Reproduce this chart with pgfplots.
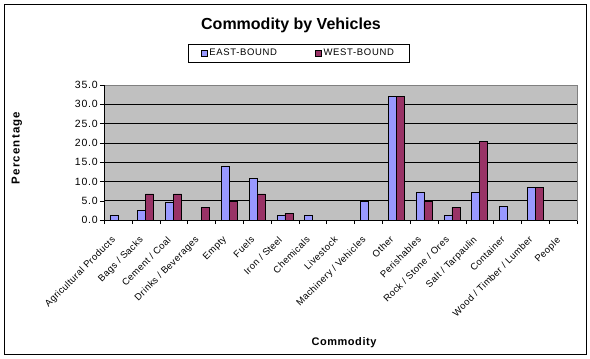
\documentclass[border=0pt]{standalone}
\usepackage{pgfplots}
\pgfplotsset{compat=1.18}
\usepackage{fontspec}
\setmainfont{Liberation Sans}
\newfontfamily\tickfont[LetterSpace=4]{Liberation Sans}
\newfontfamily\yfont[LetterSpace=8]{Liberation Sans}
\newfontfamily\legfont[LetterSpace=7]{Liberation Sans}
\newfontfamily\labfont[LetterSpace=10]{Liberation Sans}
\newfontfamily\xlabfont[LetterSpace=5]{Liberation Sans}
\definecolor{eastc}{HTML}{9999FF}
\definecolor{westc}{HTML}{993366}
\definecolor{plotbg}{HTML}{C0C0C0}
\begin{document}
\begin{tikzpicture}[x=1pt,y=1pt]
\useasboundingbox (0,0) rectangle (590,-359);
\draw[black,line width=0.8pt] (4,-4) rectangle (586,-354);
\node[font=\bfseries\fontsize{16}{18}\selectfont] at (291,-25) {Commodity by Vehicles};
\node[font=\labfont\bfseries\fontsize{11.5}{13}\selectfont,rotate=90] at (17,-148) {Percentage};
\node[font=\xlabfont\bfseries\fontsize{11}{13}\selectfont] at (344,-343) {Commodity};
\begin{axis}[
  at={(104pt,-220pt)}, anchor=south west,
  scale only axis, width=473pt, height=135pt,
  ybar=0pt, bar width=8pt,
  xmin=-0.5, xmax=16.5, ymin=0, ymax=35,
  ytick={0,5,...,35},
  xtick={0,...,16},
  xticklabels={Agricultural Products,Bags / Sacks,Cement / Coal,Drinks / Beverages,Empty,Fuels,Iron / Steel,Chemicals,Livestock,Machinery / Vehicles,Other,Perishables,Rock / Stone / Ores,Salt / Tarpaulin,Container,Wood / Timber / Lumber,People},
  minor xtick={-0.5,0.5,...,16.5},
  major x tick style={draw=none},
  minor tick length=4pt, major tick length=4pt,
  tick align=outside, tick pos=left,
  xticklabel style={xshift=-7pt, yshift=-10pt, rotate=45, anchor=north east, inner sep=1pt, font=\tickfont\fontsize{9.5}{11}\selectfont},
  yticklabel style={font=\yfont\fontsize{10.5}{12}\selectfont, inner sep=2pt},
  /pgf/number format/.cd, fixed, fixed zerofill, precision=1, assume math mode=true, /pgfplots/.cd,
  ymajorgrids, grid style={black, line width=0.6pt},
  axis background/.style={fill=plotbg},
  axis line style={gray},
  tick style={black},
  after end axis/.code={\draw[black,line width=0.6pt] (rel axis cs:0,1) -- (rel axis cs:0,0) -- (rel axis cs:1,0);},
  legend style={at={(axis description cs:0.411,1.237)}, anchor=center, legend columns=2, draw=black, line width=0.6pt, font=\legfont\fontsize{9.5}{11}\selectfont, inner xsep=13pt, inner ysep=3pt, /tikz/every even column/.append style={column sep=36pt}},
  legend image code/.code={\draw[#1] (0pt,-3pt) rectangle (6pt,3pt);},
]
\addplot[fill=eastc, draw=black, line width=0.5pt] coordinates {
(0,1.2) (1,2.4) (2,4.7) (3,0) (4,14.0) (5,10.8) (6,1.2) (7,1.2) (8,0) (9,4.8) (10,32.1) (11,7.1) (12,1.2) (13,7.1) (14,3.5) (15,8.4) (16,0)};
\addplot[fill=westc, draw=black, line width=0.5pt] coordinates {
(0,0) (1,6.8) (2,6.8) (3,3.3) (4,4.9) (5,6.8) (6,1.7) (7,0) (8,0) (9,0) (10,32.1) (11,4.9) (12,3.3) (13,20.3) (14,0) (15,8.4) (16,0)};
\legend{EAST-BOUND,WEST-BOUND}
\end{axis}
\end{tikzpicture}
\end{document}
